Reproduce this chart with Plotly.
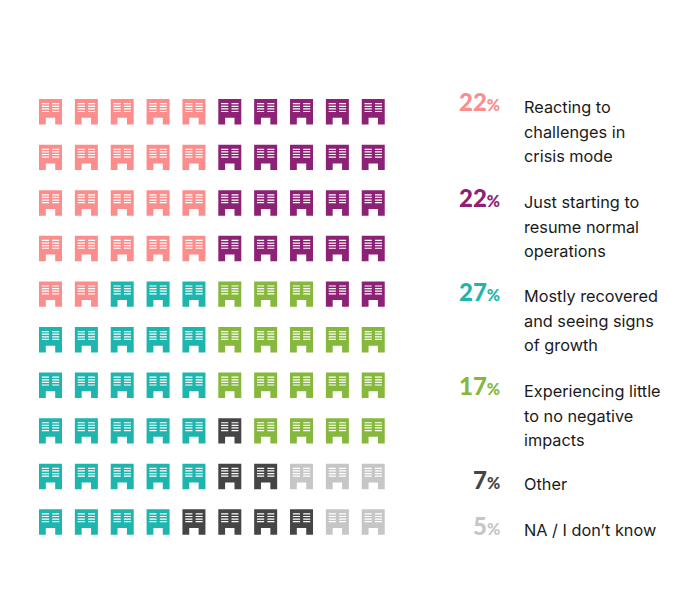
import plotly.graph_objects as go

# one letter per building, row by row
grid_rows = [
    "AAAAABBBBB",
    "AAAAABBBBB",
    "AAAAABBBBB",
    "AAAAABBBBB",
    "AACCCDDDBB",
    "CCCCCDDDDD",
    "CCCCCDDDDD",
    "CCCCCEDDDD",
    "CCCCCEEFFF",
    "CCCCEEEEFF",
]
keys = ["A", "B", "C", "D", "E", "F"]
percents = ["22", "22", "27", "17", "7", "5"]
colors = ["#FB8E8D", "#8C2175", "#1DB5AE", "#86B83D", "#454545", "#C6C6C6"]
labels = [
    ["Reacting to", "challenges in", "crisis mode"],
    ["Just starting to", "resume normal", "operations"],
    ["Mostly recovered", "and seeing signs", "of growth"],
    ["Experiencing little", "to no negative", "impacts"],
    ["Other"],
    ["NA / I don\u2019t know"],
]
label_tops = [107, 202, 296, 391, 484, 530]

W, H = 700, 592
col_step, row_step = 35.86, 45.58
x0, y0 = 50.5, 111.8  # centre of first building in px

# building outline, px relative to centre
outline_x = [-11.5, 11.5, 11.5, 4.7, 4.7, -4.7, -4.7, -11.5, -11.5]
outline_y = [-12.7, -12.7, 12.7, 12.7, 6, 6, 12.7, 12.7, -12.7]
win_x = [-8.7, -1.5, 1.7, 8.7]
win_y = [-8.7, -6.1, -3.5, -0.9]
win_h = 1.2


def cells(key):
    out = []
    for r, row in enumerate(grid_rows):
        for c, k in enumerate(row):
            if k == key:
                out.append((c, r))
    return out


fig = go.Figure()

for key, color in zip(keys, colors):
    xs, ys = [], []
    for c, r in cells(key):
        xs += [c + v / col_step for v in outline_x] + [None]
        ys += [r + v / row_step for v in outline_y] + [None]
    fig.add_trace(go.Scatter(x=xs, y=ys, mode="lines", fill="toself", fillcolor=color,
                             line=dict(width=0, color=color), hoverinfo="skip", showlegend=False))

# white window slats on top of the buildings
wx, wy = [], []
for c in range(10):
    for r in range(10):
        for side in [(win_x[0], win_x[1]), (win_x[2], win_x[3])]:
            for t in win_y:
                wx += [c + side[0] / col_step, c + side[1] / col_step, c + side[1] / col_step,
                       c + side[0] / col_step, c + side[0] / col_step, None]
                wy += [r + t / row_step, r + t / row_step, r + (t + win_h) / row_step,
                       r + (t + win_h) / row_step, r + t / row_step, None]
fig.add_trace(go.Scatter(x=wx, y=wy, mode="lines", fill="toself", fillcolor="white",
                         line=dict(width=0, color="white"), hoverinfo="skip", showlegend=False))

# percent + text column
for pct, color, lines, top in zip(percents, colors, labels, label_tops):
    fig.add_annotation(x=501.5 / W, y=1 - (top - 5) / H, xref="paper", yref="paper",
                       text=f"{pct}<span style='font-size:16px'>%</span>",
                       showarrow=False, xanchor="right", yanchor="middle",
                       font=dict(family="Lato", size=24, color=color, weight=900))
    for i, line in enumerate(lines):
        fig.add_annotation(x=524 / W, y=1 - (top + i * 24.6) / H, xref="paper", yref="paper",
                           text=line, showarrow=False, xanchor="left", yanchor="middle",
                           xshift=-2, font=dict(family="Inter", size=16.3, color="#1a1a1a"))

fig.update_xaxes(range=[-x0 / col_step, (W - x0) / col_step], visible=False, fixedrange=True)
fig.update_yaxes(range=[(H - y0) / row_step, -y0 / row_step], visible=False, fixedrange=True)
fig.update_layout(width=W, height=H, margin=dict(l=0, r=0, t=0, b=0),
                  paper_bgcolor="white", plot_bgcolor="white")

fig.write_html("out.html", config=dict(displayModeBar=False), post_script="document.body.style.margin='0';")
